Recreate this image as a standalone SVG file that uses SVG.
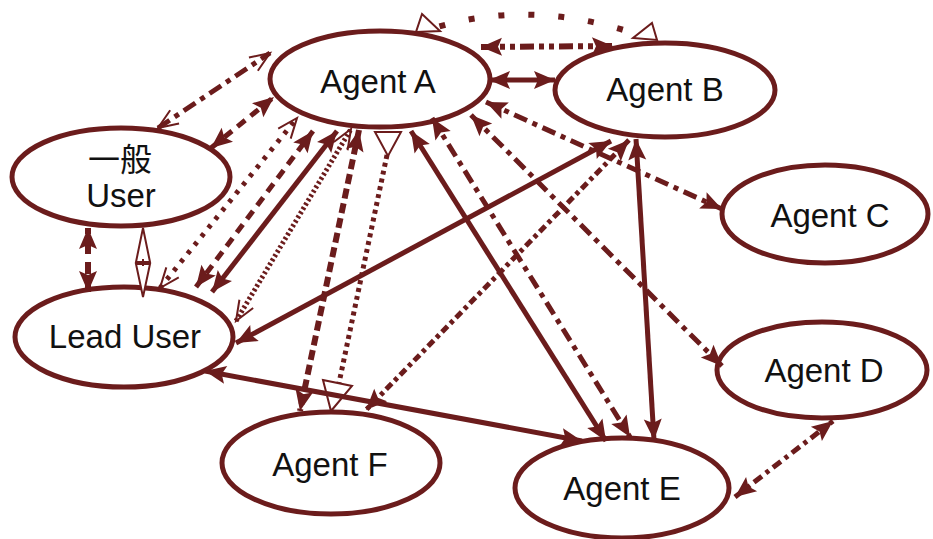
<svg xmlns="http://www.w3.org/2000/svg" width="933" height="539" viewBox="0 0 933 539">
<style>
.node ellipse{fill:#fff;stroke:#6b1c1c;stroke-width:5}
.node text{font-family:"Liberation Sans",Arial,sans-serif;font-size:33px;fill:#111;text-anchor:middle}
.node text.cjk{font-family:"Noto Sans CJK SC","Noto Sans CJK JP",sans-serif;font-size:32px}
.c{fill:none;stroke:#6b1c1c;stroke-width:4;stroke-linecap:butt}
.fa{marker-start:url(#fa);marker-end:url(#fa)}
.ov{marker-start:url(#ov);marker-end:url(#ov)}
.ot{fill:#fff;stroke:#6b1c1c;stroke-width:2}
.d1{stroke-dasharray:10 7;stroke-width:5}
.dot{stroke-dasharray:4 7;stroke-width:5}
.fine{stroke-dasharray:2.5 2.5;stroke-width:5}
.dd{stroke-dasharray:14 6 5 6;stroke-width:5}
.dd5{stroke-dasharray:14 6 5 6;stroke-width:5}
</style>
<defs>
<marker id="fa" markerUnits="userSpaceOnUse" markerWidth="24" markerHeight="20" refX="21" refY="9" orient="auto-start-reverse" overflow="visible">
<path d="M0,0 L21,9 L0,18 L4,9 Z" fill="#6b1c1c"/>
</marker>
<marker id="ov" markerUnits="userSpaceOnUse" markerWidth="22" markerHeight="18" refX="20" refY="8" orient="auto-start-reverse" overflow="visible">
<path d="M0,0 L20,8 L0,16" fill="none" stroke="#6b1c1c" stroke-width="2"/>
</marker>
</defs>

<g id="node-agent-a" class="node"><ellipse cx="380" cy="79" rx="110" ry="48"/><text x="378" y="93">Agent A</text></g>
<g id="node-agent-b" class="node"><ellipse cx="665" cy="90" rx="110" ry="47"/><text x="665" y="101">Agent B</text></g>
<g id="node-agent-c" class="node"><ellipse cx="825" cy="214" rx="103" ry="49"/><text x="830" y="227">Agent C</text></g>
<g id="node-agent-d" class="node"><ellipse cx="822" cy="370" rx="105" ry="48"/><text x="824" y="382">Agent D</text></g>
<g id="node-agent-e" class="node"><ellipse cx="622" cy="488" rx="107" ry="50"/><text x="622" y="500">Agent E</text></g>
<g id="node-agent-f" class="node"><ellipse cx="331" cy="463" rx="109" ry="51"/><text x="330" y="476">Agent F</text></g>
<g id="node-general-user" class="node"><ellipse cx="121" cy="177" rx="109" ry="49"/><text class="cjk" x="120" y="171">一般</text><text x="121" y="207">User</text></g>
<g id="node-lead-user" class="node"><ellipse cx="124" cy="337" rx="109" ry="50"/><text x="125" y="348">Lead User</text></g>

<g id="connectors">
<!-- A - B top arc -->
<path class="c" d="M428,30 Q530,-4 645,37" style="stroke-dasharray:6 24;stroke-dashoffset:-12;stroke-width:6"/>
<polygon class="ot" points="422,14 440,31 416,32" style="fill:none"/>
<polygon class="ot" points="652,23 657,40 633,38" style="fill:none"/>
<!-- A - B straight -->
<line class="c fa" x1="481" y1="47" x2="613" y2="46" style="stroke-dasharray:14 5 5 5 5 5;stroke-width:6"/>
<line class="c fa" x1="489" y1="80" x2="555" y2="80" style="stroke-width:5"/>
<!-- General user - A -->
<line class="c ov dd" x1="158" y1="128" x2="270" y2="53"/>
<line class="c fa d1" x1="211" y1="148" x2="274" y2="97"/>
<!-- General user - Lead user -->
<line class="c fa" x1="88" y1="228" x2="88" y2="292" style="stroke-dasharray:12 8;stroke-dashoffset:-14;stroke-width:6"/>
<path class="ot" d="M143,228 L136,262 L150,262 Z M143,297 L136,264 L150,264 Z"/>
<line x1="143" y1="259" x2="143" y2="266" stroke="#6b1c1c" stroke-width="2"/>
<!-- A - Lead user -->
<line class="c ov dot" x1="160" y1="288" x2="297" y2="118"/>
<line class="c fa d1" x1="196" y1="287" x2="313" y2="131"/>
<line class="c fa" x1="212" y1="292" x2="337" y2="131" style="stroke-width:5"/>
<line class="c ov fine" x1="236" y1="321" x2="351" y2="129"/>
<!-- B - Lead user -->
<line class="c fa" x1="236" y1="343" x2="611" y2="141" style="stroke-width:5"/>
<!-- A - F -->
<line class="c fa" x1="359" y1="130" x2="300" y2="411" style="stroke-dasharray:10 5;stroke-width:6"/>
<line class="c" x1="387" y1="155" x2="339" y2="383" style="stroke-dasharray:4 4;stroke-width:5"/>
<polygon class="ot" points="375,132 401,132 388,156"/>
<polygon class="ot" points="323,380 352,386 331,411"/>
<!-- A - E -->
<line class="c fa" x1="411" y1="131" x2="606" y2="441" style="stroke-width:5"/>
<line class="c fa dd" x1="432" y1="118" x2="630" y2="437"/>
<!-- A - D -->
<line class="c fa dd5" x1="471" y1="115" x2="722" y2="366"/>
<!-- A - C -->
<line class="c fa dd5" x1="486" y1="102" x2="722" y2="209"/>
<!-- B - F -->
<line class="c fa" x1="629" y1="140" x2="366" y2="410" style="stroke-dasharray:8 4 4 4;stroke-width:5"/>
<!-- B - E -->
<line class="c fa" x1="636" y1="139" x2="654" y2="440" style="stroke-width:5"/>
<!-- Lead user - E -->
<line class="c fa" x1="205" y1="371" x2="582" y2="441" style="stroke-width:5"/>
<!-- D - E -->
<line class="c fa" x1="735" y1="497" x2="833" y2="421" style="stroke-dasharray:10 5 4 5;stroke-width:5"/>
</g>
</svg>
